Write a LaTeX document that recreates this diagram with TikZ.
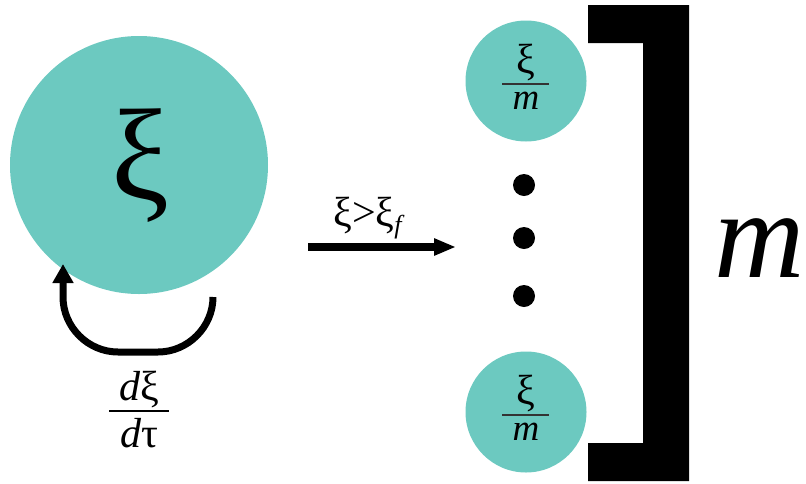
\documentclass[tikz,border=0pt]{standalone}
\usepackage{fontspec}
\setmainfont{Liberation Serif}
\usetikzlibrary{arrows.meta}
\definecolor{teal1}{HTML}{6CC9C0}
\begin{document}
\begin{tikzpicture}[x=1pt,y=-1pt,
  ball/.style={circle,fill=teal1,inner sep=0pt},
  dotc/.style={circle,fill=black,inner sep=0pt,minimum size=22pt},
  fr/.style={inner sep=0pt}]
\useasboundingbox (0,0) rectangle (806,483);
% big circle
\node[ball,minimum size=258pt] (big) at (139,165) {};
\node[fr] (bigxi) at (140,166) {\fontsize{130}{130}\selectfont ξ};
% self loop
\coordinate (ls) at (213,297);
\coordinate (le) at (63,264);
\draw[line width=7pt,-{Triangle[length=19pt,width=20pt]}] (ls) .. controls (213,327) and (188,352) .. (158,352) -- (118,352) .. controls (88,352) and (63,327) .. (63,297) -- (le);
% fraction d xi / d tau
\node[fr] (dnum) at (139,390) {\fontsize{42}{42}\selectfont\textit{d}ξ};
\node[fr] (dden) at (139,433) {\fontsize{42}{42}\selectfont\textit{d}τ};
\coordinate (fl1) at (109,411);
\coordinate (fl2) at (169,411);
\draw[line width=2pt] (fl1) -- (fl2);
% arrow
\coordinate (as) at (308,247);
\coordinate (ae) at (456,247);
\draw[line width=8pt,-{Triangle[length=22pt,width=16pt]}] (as) -- (ae);
\node[fr,anchor=base] (cond) at (369,226) {\fontsize{42}{42}\selectfont ξ>ξ\raisebox{-7pt}{\fontsize{26}{26}\selectfont\textit{f}}};
% small circles
\node[ball,minimum size=121pt] (top) at (526,81) {};
\node[ball,minimum size=121pt] (bot) at (526,412) {};
\node[fr] (tn) at (526,63) {\fontsize{42}{42}\selectfont ξ};
\node[fr] (td) at (526,101) {\fontsize{37}{37}\selectfont\textit{m}};
\coordinate (tl1) at (502,84);
\coordinate (tl2) at (549,84);
\draw[line width=2pt,black!80] (tl1) -- (tl2);
\node[fr] (bn) at (526,394) {\fontsize{42}{42}\selectfont ξ};
\node[fr] (bd) at (526,432) {\fontsize{37}{37}\selectfont\textit{m}};
\coordinate (bl1) at (502,415);
\coordinate (bl2) at (549,415);
\draw[line width=2pt,black!80] (bl1) -- (bl2);
% dots
\node[dotc] (d1) at (524,185) {};
\node[dotc] (d2) at (524,238) {};
\node[dotc] (d3) at (524,296) {};
% bracket
\fill[black] (588,5) -- (689,5) -- (689,481) -- (588,481) -- (588,443) -- (643,443) -- (643,43) -- (588,43) -- cycle;
% m
\node[fr,anchor=base] (bigm) at (760,277) {\fontsize{125}{125}\selectfont\textit{m}};
\end{tikzpicture}
\end{document}
